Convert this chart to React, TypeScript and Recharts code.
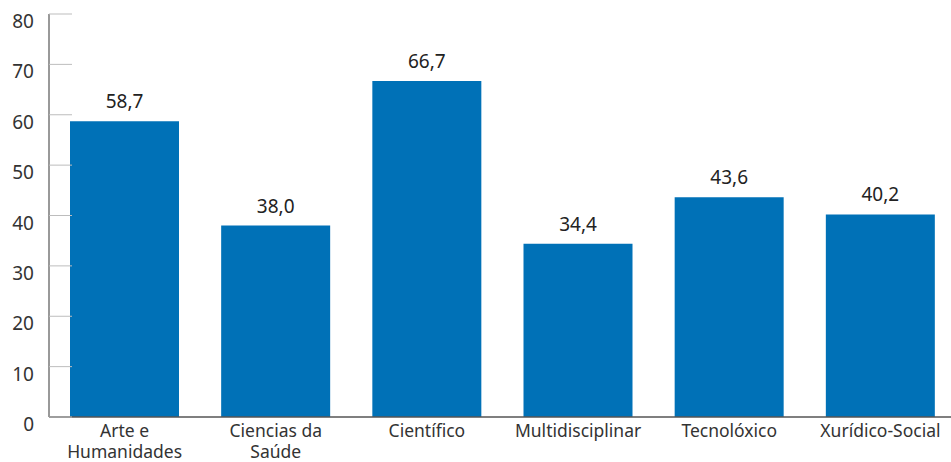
import { BarChart, Bar, XAxis, YAxis, LabelList } from 'recharts'

const categories = ['Arte e Humanidades', 'Ciencias da Saúde', 'Científico', 'Multidisciplinar', 'Tecnolóxico', 'Xurídico-Social']
const values = [58.7, 38.0, 66.7, 34.4, 43.6, 40.2]
const yTicks = [0, 10, 20, 30, 40, 50, 60, 70, 80]

const data = categories.map((name, i) => ({ name, value: values[i] }))

const FONT = '"Noto Sans", "Open Sans", sans-serif'

function wrap(label: string): string[] {
  if (label.length <= 14 || label.indexOf(' ') < 0) return [label]
  const i = label.lastIndexOf(' ')
  return [label.slice(0, i), label.slice(i + 1)]
}

function XTick({ x, y, payload }: any) {
  const lines = wrap(String(payload.value))
  return (
    <text x={x} y={y} textAnchor="middle" fill="#333" fontSize={17.5} fontFamily={FONT}>
      {lines.map((l, i) => (
        <tspan key={i} x={x} dy={i === 0 ? 18 : 21}>{l}</tspan>
      ))}
    </text>
  )
}

function YTick({ x, y, payload }: any) {
  return (
    <g>
      <line x1={x} x2={x + 23} y1={y} y2={y} stroke="#bdbdbd" strokeWidth={1} />
      <text x={x - 15} y={y + 14} textAnchor="end" fill="#333" fontSize={19} fontFamily={FONT}>
        {payload.value}
      </text>
    </g>
  )
}

export default function App() {
  return (
    <div style={{ position: 'fixed', left: 0, top: 0, width: 951, height: 462, background: '#fff' }}>
      <BarChart
        width={951}
        height={462}
        data={data}
        margin={{ top: 14, right: -5, bottom: 0, left: 0 }}
        barCategoryGap={21}
      >
        <XAxis
          dataKey="name"
          axisLine={{ stroke: '#555', strokeWidth: 1.5 }}
          tickLine={false}
          tickSize={0}
          interval={0}
          height={45}
          tick={<XTick />}
        />
        <YAxis
          domain={[0, 80]}
          ticks={yTicks}
          width={49}
          axisLine={{ stroke: '#777', strokeWidth: 1.5 }}
          tickLine={false}
          tickSize={0}
          tickMargin={0}
          tick={<YTick />}
          interval={0}
        />
        <Bar dataKey="value" fill="#0071b7" isAnimationActive={false}>
          <LabelList
            dataKey="value"
            position="top"
            offset={13}
            fill="#222"
            fontSize={19}
            fontFamily={FONT}
            formatter={(v: any) => Number(v).toFixed(1).replace('.', ',')}
          />
        </Bar>
      </BarChart>
    </div>
  )
}
